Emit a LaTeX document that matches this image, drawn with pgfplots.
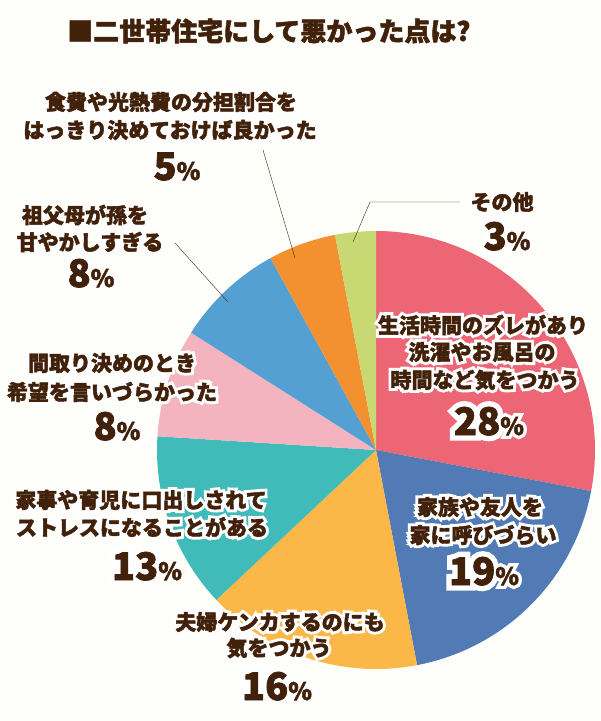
\documentclass[border=0pt]{standalone}
\usepackage{fontspec}
\setmainfont{Noto Sans CJK JP}[BoldFeatures={FakeBold=2}]
\newfontfamily\halofont{Noto Sans CJK JP}[BoldFeatures={FakeBold=30}]
\usepackage{pgfplots}
\pgfplotsset{compat=1.18}
\usepackage{pgfplotstable}

\definecolor{bg}{HTML}{FEFEFB}
\definecolor{tx}{HTML}{42210B}
\definecolor{c1}{HTML}{EC6676}
\definecolor{c2}{HTML}{527BB5}
\definecolor{c3}{HTML}{FBB848}
\definecolor{c4}{HTML}{41BBB9}
\definecolor{c5}{HTML}{F3B4C0}
\definecolor{c6}{HTML}{55A0D3}
\definecolor{c7}{HTML}{F39130}
\definecolor{c8}{HTML}{C8D872}

% share (percent) and colour, clockwise from 12 o'clock
\pgfplotstableread{
value color
28 c1
19 c2
16 c3
13 c4
8 c5
8 c6
5 c7
3 c8
}\piedata

% label line: white halo behind, brown text on top
\newcommand{\lab}[3]{%
  \node[inner sep=0pt,text=white,font=\fontsize{21bp}{21bp}\halofont\bfseries] at (axis cs:#1,#2) {#3};
  \node[inner sep=0pt,text=tx,font=\fontsize{21bp}{21bp}\selectfont\bfseries] at (axis cs:#1,#2) {#3};}
\newcommand{\pcttext}[1]{{\fontsize{38bp}{38bp}\selectfont #1}{\fontsize{24bp}{24bp}\selectfont\%}}
\newcommand{\pct}[3]{%
  \node[inner sep=0pt,anchor=base,text=white,font=\halofont\bfseries] at (axis cs:#1,#2) {\pcttext{#3}};
  \node[inner sep=0pt,anchor=base,text=tx,font=\bfseries] at (axis cs:#1,#2) {\pcttext{#3}};}

\begin{document}
\begin{tikzpicture}
\begin{axis}[width=601bp,height=721bp,scale only axis,hide axis,clip=false,
  xmin=0,xmax=601,ymin=0,ymax=721,y dir=reverse]
\fill[bg] (rel axis cs:0,0) rectangle (rel axis cs:1,1);
\pgfplotsextra{
  \pgfplotstablegetrowsof{\piedata}
  \pgfmathtruncatemacro{\nrows}{\pgfplotsretval-1}
  \gdef\cum{0}
  \foreach \i in {0,...,\nrows}{
    \pgfplotstablegetelem{\i}{value}\of{\piedata}\let\v\pgfplotsretval
    \pgfplotstablegetelem{\i}{color}\of{\piedata}\let\slicecol\pgfplotsretval
    \pgfmathsetmacro{\sa}{90-3.6*\cum}
    \pgfmathsetmacro{\ea}{90-3.6*(\cum+\v)}
    \fill[\slicecol] (axis cs:376,450) -- ++(\sa:219bp)
      arc[start angle=\sa,end angle=\ea,radius=219bp] -- cycle;
    \pgfmathsetmacro{\newcum}{\cum+\v}
    \global\let\cum\newcum
  }
}
% leader lines
\addplot[tx,thin,no marks] coordinates {(263,150) (295,258)};
\addplot[tx,thin,no marks] coordinates {(175,243) (228,302)};
\addplot[tx,thin,no marks] coordinates {(460,202) (370,202) (353,242)};

\node[inner sep=0pt,anchor=west,text=tx,font=\fontsize{26bp}{26bp}\selectfont\bfseries] at (axis cs:67,31) {■二世帯住宅にして悪かった点は?};

\lab{171}{102}{食費や光熱費の分担割合を}
\lab{170}{130}{はっきり決めておけば良かった}
\pct{177}{180}{5}
\lab{85}{215}{祖父母が孫を}
\lab{90}{242}{甘やかしすぎる}
\pct{91}{287}{8}
\lab{112}{363}{間取り決めのとき}
\lab{112}{392}{希望を言いづらかった}
\pct{117}{440}{8}
\lab{141}{500}{家事や育児に口出しされて}
\lab{142}{527}{ストレスになることがある}
\pct{147}{580}{13}
\lab{280}{622}{夫婦ケンカするのにも}
\lab{279}{648}{気をつかう}
\pct{277}{700}{16}
\lab{502}{202}{その他}
\pct{507}{250}{3}
\lab{483}{325}{生活時間のズレがあり}
\lab{482}{352}{洗濯やお風呂の}
\lab{485}{380}{時間など気をつかう}
\pct{489}{435}{28}
\lab{480}{507}{家族や友人を}
\lab{483}{535}{家に呼びづらい}
\pct{484}{585}{19}
\end{axis}
\end{tikzpicture}
\end{document}
